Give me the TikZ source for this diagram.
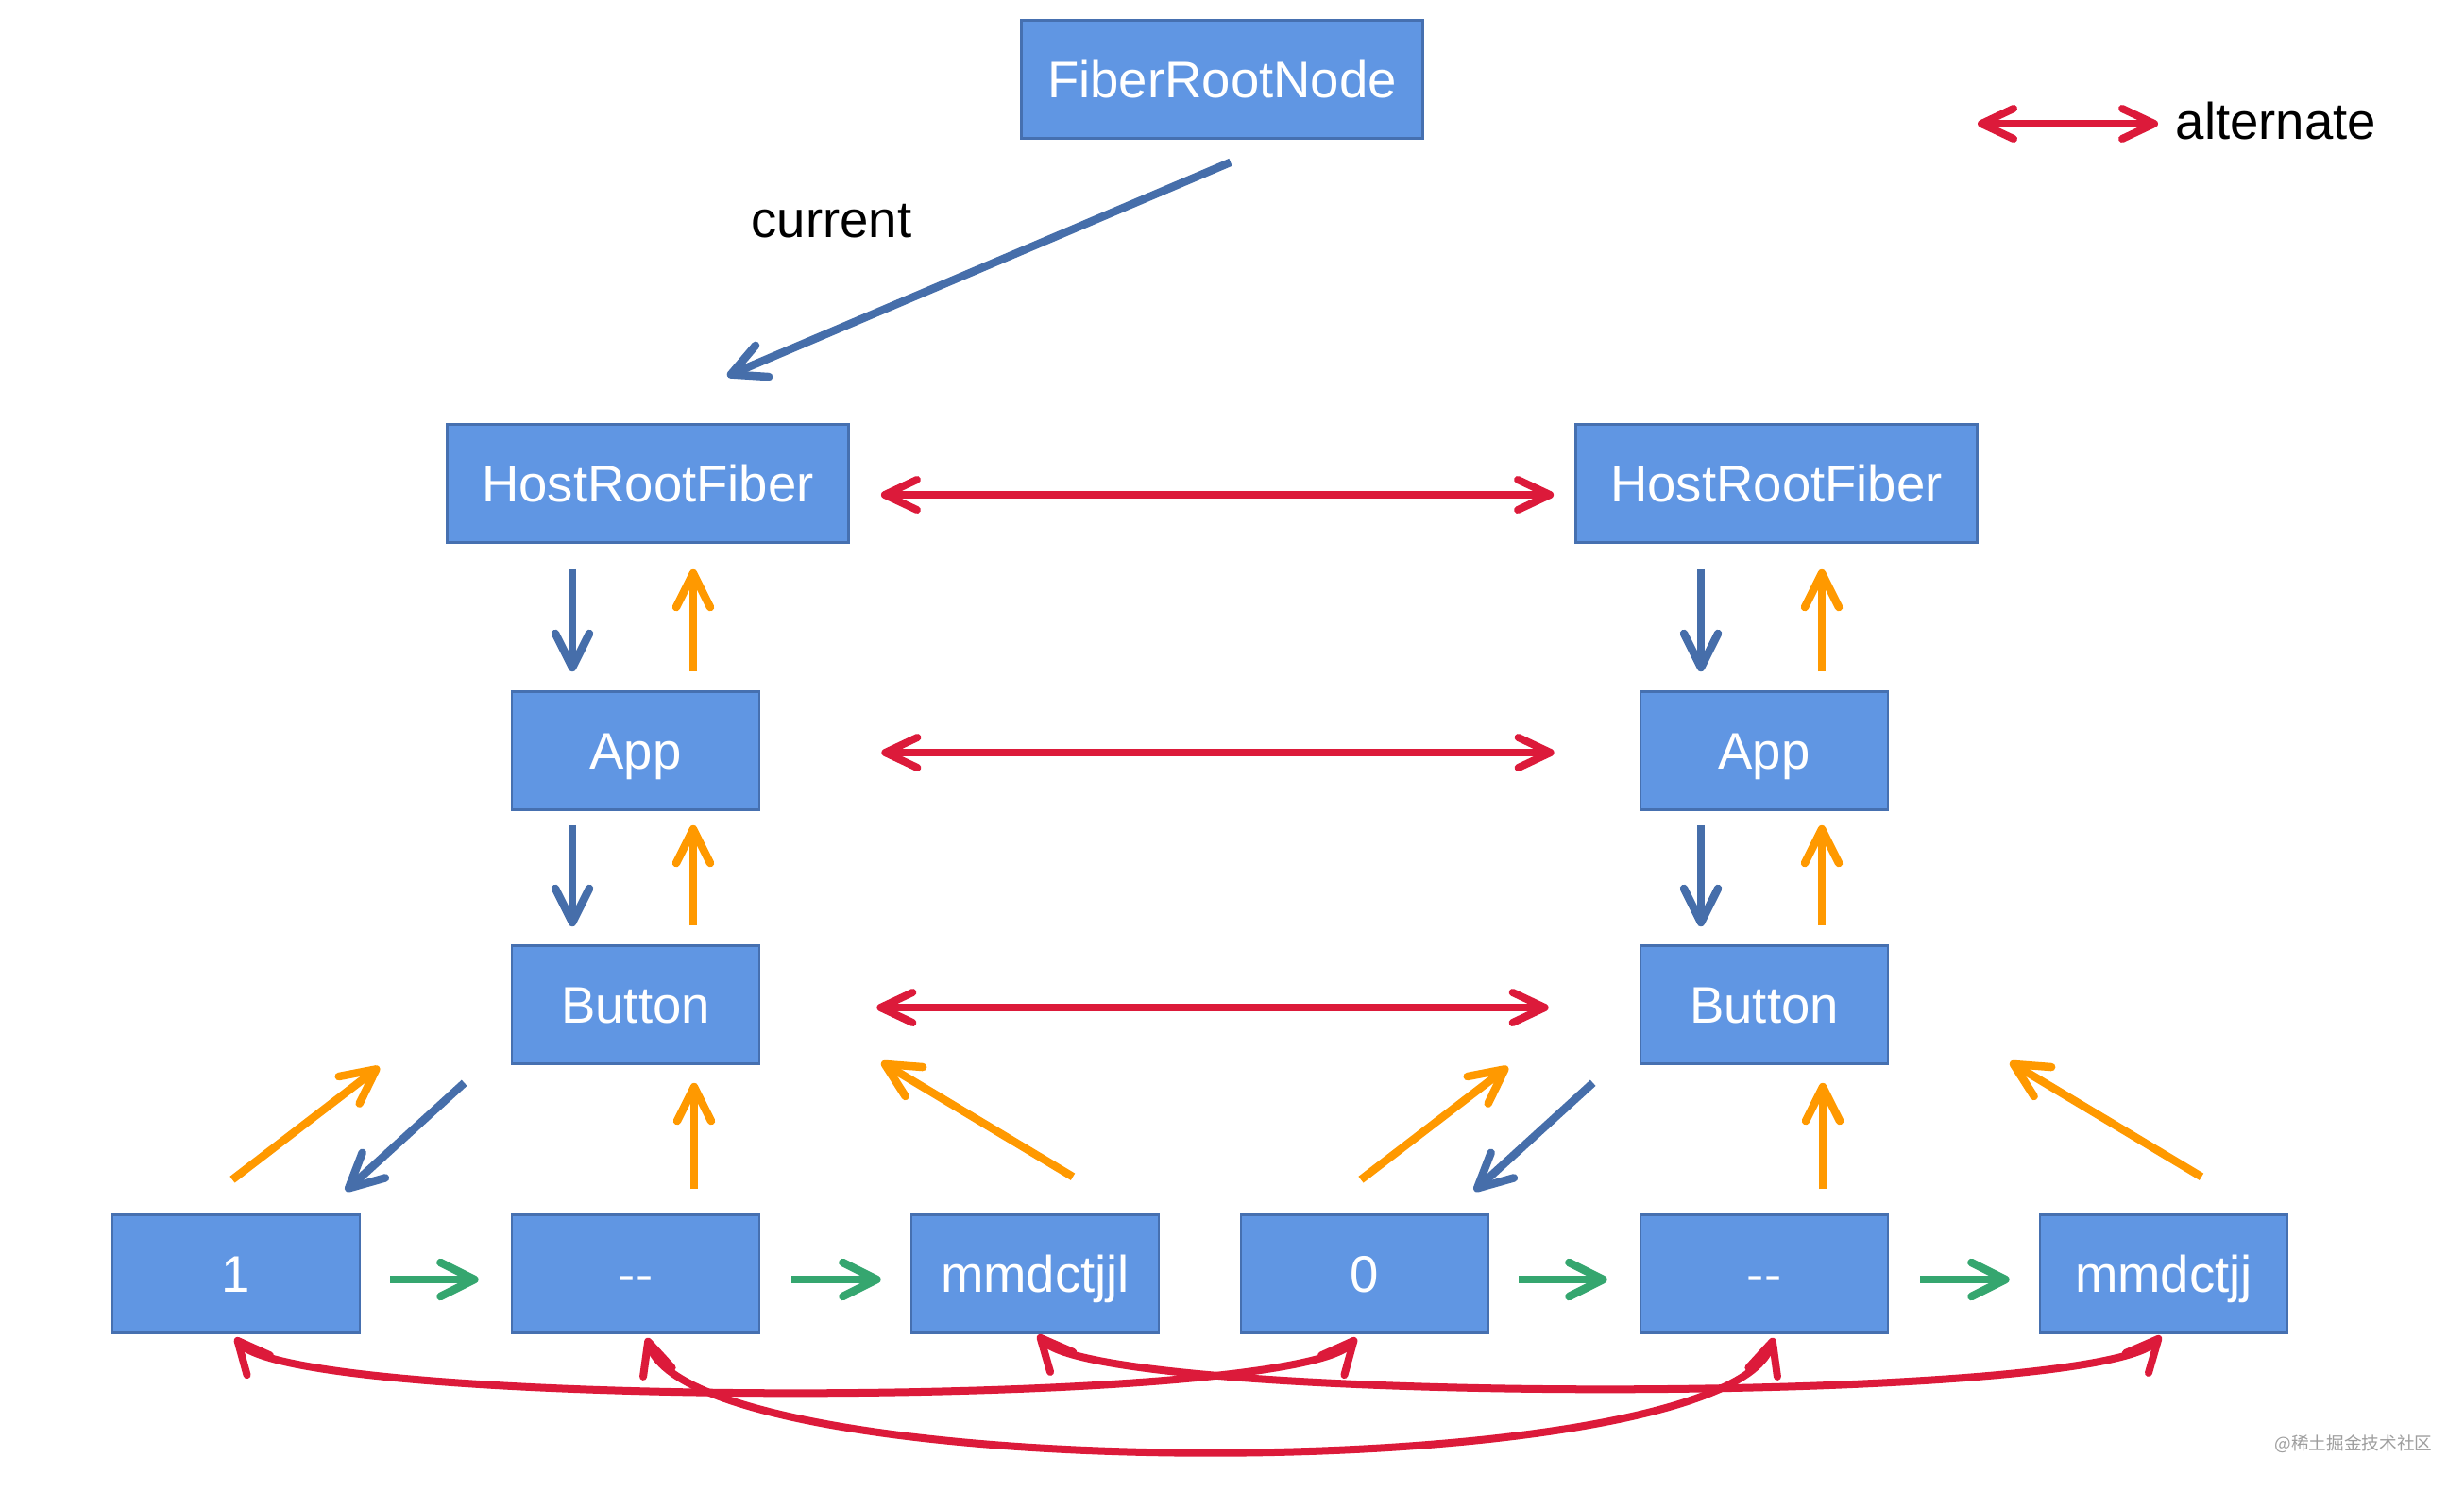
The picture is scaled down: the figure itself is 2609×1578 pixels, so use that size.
\documentclass[tikz,border=0pt]{standalone}
\usepackage{fontspec}
\setmainfont{Liberation Sans}
\newfontfamily\cjk{Noto Sans CJK SC}
\usetikzlibrary{arrows.meta,calc}
\definecolor{boxfill}{HTML}{6096E3}
\definecolor{boxline}{HTML}{4670B0}
\definecolor{arrblue}{HTML}{466EAA}
\definecolor{arrorange}{HTML}{FF9900}
\definecolor{arrgreen}{HTML}{35A66F}
\definecolor{arrred}{HTML}{DC1A3A}
\begin{document}
\begin{tikzpicture}[x=0.01cm,y=-0.01cm,
  box/.style={draw=boxline, line width=0.025cm, fill=boxfill, text=white,
    minimum height=1.25cm, inner sep=0pt, text height=0.391cm, text depth=0cm,
    font=\fontsize{15.5}{18}\selectfont},
  smallbox/.style={box, minimum width=2.62cm},
  widebox/.style={box, minimum width=4.25cm},
  link/.style={line width=0.085cm, -{Straight Barb[length=0.36cm,width=0.36cm,round]}},
  bluearr/.style={link, draw=arrblue},
  orgarr/.style={link, draw=arrorange},
  grnarr/.style={link, draw=arrgreen},
  altarr/.style={line width=0.08cm, draw=arrred,
    {Straight Barb[length=0.34cm,width=0.32cm,round]}-{Straight Barb[length=0.34cm,width=0.32cm,round]}},
  lbl/.style={font=\fontsize{15.5}{18}\selectfont, text=black, inner sep=0pt}
]
\useasboundingbox (0,0) rectangle (2609,1578);

% nodes
\node[widebox] (frn) at (1294,84) {FiberRootNode};
\node[widebox] (hrfL) at (686,512) {HostRootFiber};
\node[widebox] (hrfR) at (1881,512) {HostRootFiber};
\node[smallbox] (appL) at (673,795) {App};
\node[smallbox] (appR) at (1868,795) {App};
\node[smallbox] (btnL) at (673,1064) {Button};
\node[smallbox] (btnR) at (1868,1064) {Button};
\node[smallbox] (n1) at (250,1349) {1};
\node[smallbox] (dashL) at (673,1349) {-{}-};
\node[smallbox] (mmL) at (1096,1349) {mmdctjjl};
\node[smallbox] (n0) at (1445,1349) {0};
\node[smallbox] (dashR) at (1868,1349) {-{}-};
\node[smallbox] (mmR) at (2291,1349) {mmdctjj};

\node[lbl, anchor=base west] (cur) at (795,251) {current};
\coordinate (lgA) at (2094,131);
\coordinate (lgB) at (2285,131);
\node[lbl, anchor=base west] (alt) at (2303,147) {alternate};
\node[font=\cjk\fontsize{5.3}{7}\selectfont, text=black!38, inner sep=0pt] (wm) at (2492,1529) {@稀土掘金技术社区};

% current
\draw[bluearr] ($(frn.south)+(9,24)$) -- ($(hrfL.north)+(84,-50)$);

% legend
\draw[altarr] (lgA) -- (lgB);

% alternate links
\draw[altarr] ($(hrfL.east)+(33,12)$) -- ($(hrfR.west)+(-22,12)$);
\draw[altarr] ($(appL.east)+(128,2)$) -- ($(appR.west)+(-90,2)$);
\draw[altarr] ($(btnL.east)+(123,3)$) -- ($(btnR.west)+(-96,3)$);

% columns
\foreach \h/\a/\b in {hrfL/appL/btnL, hrfR/appR/btnR}{
  \draw[bluearr] ($(\h.south -| \a)+(-67,27)$) -- ($(\a.north)+(-67,-20)$);
  \draw[orgarr] ($(\a.north)+(61,-20)$) -- ($(\h.south -| \a)+(61,27)$);
  \draw[bluearr] ($(\a.south)+(-67,15)$) -- ($(\b.north)+(-67,-19)$);
  \draw[orgarr] ($(\b.north)+(61,-20)$) -- ($(\a.south)+(61,15)$);
}

% bottom groups
\foreach \b/\f/\d/\m in {btnL/n1/dashL/mmL, btnR/n0/dashR/mmR}{
  \draw[orgarr] ($(\f.north)+(-4,-36)$) -- ($(\b.south west)+(-139,2)$);
  \draw[bluearr] ($(\b.south west)+(-49,19)$) -- ($(\f.north)+(116,-24)$);
  \draw[orgarr] ($(\d.north)+(62,-26)$) -- ($(\b.south)+(62,19)$);
  \draw[orgarr] ($(\m.north)+(40,-39)$) -- ($(\b.south east)+(128,-3)$);
  \draw[grnarr] ($(\f.east)+(31,6)$) -- ($(\d.west)+(-34,6)$);
  \draw[grnarr] ($(\d.east)+(33,6)$) -- ($(\m.west)+(-31,6)$);
}

% sibling alternates (curves)
\draw[altarr] ($(n1.south)+(-1,4)$) .. controls +(65,76) and +(-65,76) .. ($(n0.south)+(-9,4)$);
\draw[altarr] ($(mmL.south)+(3,1)$) .. controls +(65,74) and +(-65,74) .. ($(mmR.south)+(-3,2)$);
\draw[altarr] ($(dashL.south)+(12,4)$) .. controls +(50,160) and +(-50,160) .. ($(dashR.south)+(10,4)$);
\end{tikzpicture}
\end{document}
